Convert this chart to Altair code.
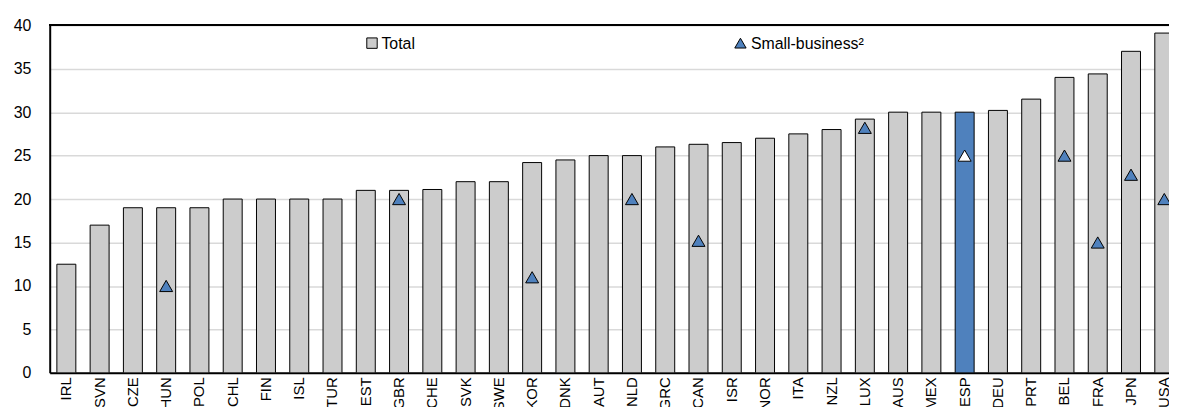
import altair as alt
import pandas as pd

countries = ["IRL", "SVN", "CZE", "HUN", "POL", "CHL", "FIN", "ISL", "TUR", "EST",
             "GBR", "CHE", "SVK", "SWE", "KOR", "DNK", "AUT", "NLD", "GRC", "CAN",
             "ISR", "NOR", "ITA", "NZL", "LUX", "AUS", "MEX", "ESP", "DEU", "PRT",
             "BEL", "FRA", "JPN", "USA"]
total = [12.5, 17, 19, 19, 19, 20, 20, 20, 20, 21,
         21, 21.1, 22, 22, 24.2, 24.5, 25, 25, 26, 26.3,
         26.5, 27, 27.5, 28, 29.2, 30, 30, 30, 30.2, 31.5,
         34, 34.4, 37, 39.1]
small_business = [None, None, None, 10, None, None, None, None, None, None,
                  20, None, None, None, 11, None, None, 20, None, 15.2,
                  None, None, None, None, 28.2, None, None, 25, None, None,
                  25, 15, 22.8, 20]

df = pd.DataFrame({"country": countries, "total": total, "small": small_business})

W = 1127
H = 350
FONT = "Liberation Sans"
BLUE = "#4f81bd"

xenc = alt.X("country:N", sort=countries, title=None,
             scale=alt.Scale(range=[0, 1139], paddingInner=0.43, paddingOuter=0.215),
             axis=alt.Axis(labelAngle=270, labelFontSize=15, labelFont=FONT, labelColor="black",
                           domainColor="black", domainWidth=2, ticks=False, tickSize=0,
                           labelPadding=4, labelOverlap=False))
yenc = alt.Y("total:Q", title=None,
             scale=alt.Scale(domain=[0, 40], nice=False),
             axis=alt.Axis(values=list(range(0, 45, 5)), labelFontSize=16, labelFont=FONT,
                           labelColor="black", domainColor="black", domainWidth=2,
                           ticks=False, tickSize=0, labelPadding=19,
                           grid=True, gridColor="#d9d9d9", gridWidth=1.5))

bars = alt.Chart(df).mark_bar(stroke="black", strokeWidth=1, clip=True).encode(
    x=xenc, y=yenc,
    color=alt.condition(alt.datum.country == "ESP", alt.value(BLUE), alt.value("#cccccc")),
)

tri = alt.Chart(df).transform_filter("isValid(datum.small)").mark_point(
    shape="triangle-up", filled=True, size=170, stroke="black", strokeWidth=1, opacity=1, clip=True
).encode(
    x=alt.X("country:N", sort=countries),
    y=alt.Y("small:Q"),
    fill=alt.condition(alt.datum.country == "ESP", alt.value("white"), alt.value(BLUE)),
)

top_border = alt.Chart(df).mark_rule(color="black", strokeWidth=1.5).encode(
    x=alt.value(0), x2=alt.value(W), y=alt.value(0)
)

leg_df = pd.DataFrame({"k": [0]})
leg_sq = alt.Chart(leg_df).mark_square(size=110, fill="#cccccc", stroke="black",
                                       strokeWidth=1, opacity=1).encode(
    x=alt.value(324.5), y=alt.value(18))
leg_sq_t = alt.Chart(leg_df).mark_text(text="Total", align="left", baseline="middle",
                                       font=FONT, fontSize=16, color="black").encode(
    x=alt.value(334), y=alt.value(18.5))
leg_tr = alt.Chart(leg_df).mark_point(shape="triangle-up", size=130, filled=True, fill=BLUE,
                                      stroke="black", strokeWidth=1, opacity=1).encode(
    x=alt.value(695.5), y=alt.value(18))
leg_tr_t = alt.Chart(leg_df).mark_text(text="Small-business²", align="left", baseline="middle",
                                       font=FONT, fontSize=16, color="black").encode(
    x=alt.value(706), y=alt.value(18.5))

chart = alt.layer(bars, tri, top_border, leg_sq, leg_sq_t, leg_tr, leg_tr_t).properties(
    width=W, height=H,
    autosize=alt.AutoSizeParams(type="none"),
    padding={"left": 42, "top": 16, "right": 0, "bottom": 33},
).configure_view(stroke=None).configure_axis(labelFont=FONT)

chart.save("out.html", embed_options={"renderer": "svg", "actions": False})
